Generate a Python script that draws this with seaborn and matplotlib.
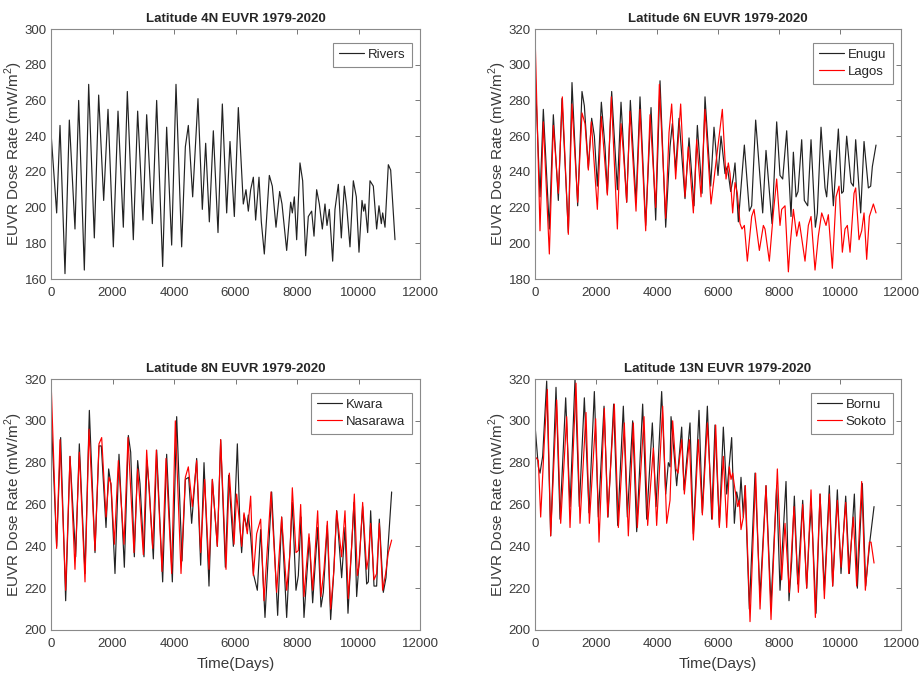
import matplotlib
matplotlib.use('Agg')
import matplotlib.pyplot as plt
import seaborn as sns

# ── Values (day, dose rate) ────────────────────────────────
rivers_days = [0, 184, 293, 455, 596, 780, 900, 1084, 1225, 1409,
               1550, 1713, 1854, 2027, 2179, 2352, 2482, 2677, 2818, 2992,
               3111, 3295, 3436, 3631, 3761, 3924, 4065, 4249, 4369, 4466,
               4607, 4780, 4921, 5030, 5149, 5279, 5431, 5572, 5713, 5821,
               5962, 6092, 6254, 6341, 6417, 6493, 6580, 6655, 6764, 6840,
               6937, 7100, 7197, 7317, 7436, 7512, 7664, 7794, 7848, 7913,
               7989, 8097, 8184, 8281, 8368, 8477, 8553, 8639, 8726, 8824,
               8910, 8975, 9051, 9160, 9235, 9344, 9441, 9539, 9615, 9723,
               9832, 9929, 10016, 10114, 10168, 10211, 10298, 10374, 10482, 10590,
               10666, 10742, 10786, 10862, 10970, 11046, 11187]
rivers = [242, 197, 246, 163, 249, 188, 260, 165, 269, 183,
          263, 204, 255, 178, 254, 189, 265, 182, 254, 193,
          252, 191, 260, 167, 245, 179, 269, 178, 234, 246,
          206, 261, 199, 236, 192, 243, 186, 258, 197, 237,
          195, 256, 202, 210, 198, 210, 217, 193, 217, 192,
          174, 218, 212, 189, 209, 202, 176, 203, 197, 206,
          182, 225, 215, 173, 195, 198, 184, 210, 202, 188,
          202, 190, 199, 170, 199, 213, 183, 212, 201, 178,
          215, 206, 175, 204, 198, 202, 186, 215, 212, 188,
          201, 191, 197, 189, 224, 221, 182]

enugu_days = [0, 164, 273, 470, 601, 765, 885, 1093, 1213, 1399,
              1541, 1618, 1749, 1858, 1946, 2044, 2175, 2295, 2372, 2514,
              2700, 2820, 3006, 3126, 3312, 3443, 3629, 3804, 3957, 4099,
              4285, 4427, 4503, 4612, 4722, 4918, 5050, 5214, 5323, 5476,
              5574, 5760, 5869, 6000, 6100, 6230, 6306, 6416, 6503, 6558,
              6667, 6776, 6864, 7028, 7104, 7235, 7465, 7574, 7771, 7924,
              8033, 8121, 8252, 8394, 8471, 8558, 8624, 8744, 8831, 8941,
              9050, 9192, 9257, 9378, 9509, 9563, 9673, 9782, 9946, 10055,
              10110, 10219, 10361, 10438, 10514, 10678, 10788, 10930, 11006, 11061,
              11181]
enugu = [298, 226, 275, 208, 272, 224, 281, 206, 290, 221,
         285, 277, 242, 270, 260, 232, 279, 254, 228, 285,
         230, 279, 223, 280, 223, 282, 210, 276, 213, 291,
         209, 254, 267, 241, 270, 225, 259, 221, 266, 228,
         282, 232, 265, 238, 260, 239, 243, 229, 237, 245,
         212, 236, 255, 218, 221, 269, 217, 252, 211, 268,
         238, 236, 263, 215, 251, 226, 229, 258, 224, 221,
         258, 209, 217, 265, 231, 226, 252, 221, 264, 228,
         229, 260, 234, 232, 258, 217, 257, 231, 232, 243,
         255]

lagos_days = [0, 164, 273, 470, 601, 765, 896, 1093, 1213, 1399,
              1541, 1640, 1749, 1847, 2044, 2175, 2372, 2503, 2700, 2820,
              2897, 3006, 3115, 3312, 3443, 3629, 3771, 3957, 4077, 4285,
              4394, 4481, 4612, 4776, 4918, 5028, 5192, 5301, 5443, 5574,
              5771, 6142, 6263, 6339, 6394, 6481, 6558, 6634, 6722, 6787,
              6864, 6962, 7104, 7181, 7356, 7487, 7541, 7683, 7815, 7924,
              8033, 8088, 8197, 8307, 8361, 8471, 8580, 8667, 8853, 8962,
              9050, 9181, 9290, 9400, 9542, 9618, 9749, 9870, 9968, 10077,
              10165, 10241, 10329, 10460, 10514, 10624, 10711, 10788, 10875, 10963,
              11094, 11181]
lagos = [318, 207, 268, 194, 266, 228, 282, 205, 278, 223,
         273, 267, 241, 268, 219, 271, 227, 282, 208, 267,
         251, 223, 274, 218, 275, 207, 272, 220, 289, 214,
         262, 278, 236, 278, 226, 254, 217, 258, 226, 275,
         222, 275, 236, 245, 239, 217, 234, 228, 211, 208,
         210, 190, 215, 219, 196, 210, 208, 190, 217, 236,
         210, 219, 221, 184, 198, 219, 204, 212, 190, 210,
         215, 185, 204, 217, 210, 216, 186, 226, 232, 195,
         208, 210, 195, 228, 231, 202, 207, 217, 191, 215,
         222, 217]

kwara_days = [0, 184, 314, 477, 618, 802, 921, 1106, 1247, 1431,
              1561, 1637, 1789, 1875, 1951, 2081, 2211, 2385, 2515, 2591,
              2710, 2818, 2894, 3024, 3122, 3198, 3328, 3436, 3631, 3761,
              3946, 4087, 4260, 4369, 4477, 4574, 4737, 4867, 4976, 5138,
              5247, 5409, 5518, 5670, 5778, 5930, 6060, 6146, 6200, 6276,
              6363, 6417, 6493, 6580, 6710, 6818, 6959, 7176, 7371, 7501,
              7664, 7848, 7967, 8043, 8130, 8227, 8401, 8509, 8672, 8780,
              8856, 8986, 9094, 9181, 9290, 9452, 9561, 9658, 9777, 9853,
              9940, 10027, 10135, 10265, 10320, 10395, 10504, 10590, 10677, 10807,
              10894, 11078]
kwara = [305, 240, 292, 214, 283, 235, 289, 227, 305, 237,
         288, 288, 249, 277, 269, 227, 284, 230, 293, 285,
         235, 281, 270, 235, 281, 267, 234, 286, 223, 284,
         223, 302, 233, 272, 273, 251, 282, 231, 280, 221,
         272, 240, 291, 230, 274, 240, 289, 249, 237, 255,
         249, 255, 245, 227, 219, 248, 206, 266, 207, 254,
         206, 261, 219, 226, 254, 206, 244, 213, 249, 211,
         218, 250, 205, 224, 257, 225, 249, 208, 240, 261,
         216, 234, 259, 222, 223, 257, 221, 221, 253, 218,
         225, 266]

nasarawa_days = [0, 184, 293, 477, 618, 780, 921, 1106, 1236, 1431,
                 1561, 1648, 1789, 1886, 1951, 2060, 2190, 2374, 2504, 2699,
                 2818, 3003, 3111, 3306, 3425, 3610, 3740, 3924, 4043, 4228,
                 4369, 4466, 4596, 4737, 4867, 4997, 5138, 5247, 5409, 5518,
                 5691, 5800, 5952, 6038, 6146, 6200, 6276, 6384, 6493, 6580,
                 6688, 6818, 6927, 7154, 7338, 7501, 7664, 7772, 7848, 7967,
                 8043, 8119, 8227, 8390, 8509, 8672, 8780, 8878, 8986, 9094,
                 9203, 9290, 9452, 9561, 9669, 9777, 9864, 9962, 10027, 10135,
                 10265, 10320, 10395, 10504, 10590, 10677, 10785, 10883, 10970, 11078]
nasarawa = [320, 239, 291, 219, 283, 229, 285, 223, 296, 238,
            289, 292, 254, 273, 270, 241, 281, 241, 292, 237,
            277, 236, 286, 239, 286, 228, 282, 227, 300, 227,
            273, 278, 259, 281, 237, 272, 229, 272, 240, 291,
            229, 275, 241, 265, 249, 240, 256, 246, 264, 226,
            246, 253, 214, 266, 218, 254, 219, 237, 268, 237,
            238, 260, 216, 246, 219, 257, 216, 229, 252, 210,
            229, 257, 235, 257, 215, 240, 265, 226, 232, 261,
            229, 234, 251, 224, 227, 251, 219, 227, 237, 243]

bornu_days = [0, 109, 164, 251, 383, 514, 689, 820, 1006, 1148,
              1312, 1454, 1618, 1771, 1946, 2077, 2263, 2394, 2579, 2711,
              2896, 3028, 3202, 3334, 3530, 3662, 3847, 3968, 4153, 4285,
              4372, 4427, 4460, 4645, 4809, 4886, 5082, 5192, 5378, 5487,
              5651, 5793, 5902, 6044, 6175, 6285, 6448, 6536, 6612, 6700,
              6754, 6831, 6886, 7028, 7214, 7378, 7574, 7738, 7924, 8033,
              8143, 8230, 8328, 8416, 8503, 8613, 8777, 8908, 8995, 9061,
              9214, 9345, 9487, 9651, 9760, 9913, 10033, 10187, 10307, 10471,
              10569, 10733, 10842, 10984, 11116]
bornu = [298, 278, 275, 283, 319, 245, 316, 253, 311, 259,
         320, 259, 311, 256, 314, 254, 307, 254, 308, 250,
         307, 254, 300, 247, 308, 253, 299, 259, 314, 265,
         280, 278, 302, 269, 297, 267, 299, 246, 305, 256,
         307, 253, 298, 250, 297, 265, 292, 251, 266, 259,
         273, 254, 269, 210, 275, 216, 269, 212, 269, 219,
         248, 271, 214, 233, 264, 222, 262, 220, 246, 259,
         208, 265, 219, 269, 221, 267, 227, 264, 227, 265,
         220, 270, 221, 243, 259]

sokoto_days = [0, 109, 186, 306, 404, 514, 710, 842, 1038, 1148,
               1344, 1476, 1672, 1782, 1989, 2099, 2273, 2383, 2601, 2733,
               2929, 3060, 3224, 3356, 3574, 3694, 3880, 3989, 4186, 4317,
               4427, 4514, 4623, 4689, 4809, 4897, 5061, 5192, 5356, 5487,
               5651, 5815, 5924, 6044, 6175, 6285, 6372, 6427, 6481, 6558,
               6645, 6700, 6754, 6831, 6897, 7050, 7235, 7378, 7574, 7738,
               7946, 8088, 8197, 8339, 8492, 8635, 8777, 8908, 9050, 9192,
               9345, 9487, 9651, 9760, 9913, 10033, 10187, 10285, 10438, 10547,
               10711, 10831, 10963, 11018, 11116]
sokoto = [283, 281, 254, 290, 315, 245, 310, 251, 302, 249,
          318, 251, 304, 251, 301, 242, 306, 254, 308, 249,
          299, 245, 299, 249, 302, 250, 287, 250, 307, 251,
          262, 300, 277, 275, 291, 265, 291, 243, 291, 255,
          299, 253, 298, 249, 283, 249, 278, 272, 275, 267,
          259, 262, 248, 254, 269, 204, 275, 210, 269, 205,
          277, 224, 251, 218, 259, 218, 260, 220, 267, 206,
          265, 215, 265, 221, 262, 230, 261, 227, 254, 221,
          271, 219, 242, 242, 232]

x_ticks = [0, 2000, 4000, 6000, 8000, 10000, 12000]

panels = [
    ('Latitude 4N EUVR 1979-2020', [('Rivers', rivers_days, rivers)], (160, 300)),
    ('Latitude 6N EUVR 1979-2020', [('Enugu', enugu_days, enugu),
                                     ('Lagos', lagos_days, lagos)], (180, 320)),
    ('Latitude 8N EUVR 1979-2020', [('Kwara', kwara_days, kwara),
                                     ('Nasarawa', nasarawa_days, nasarawa)], (200, 320)),
    ('Latitude 13N EUVR 1979-2020', [('Bornu', bornu_days, bornu),
                                      ('Sokoto', sokoto_days, sokoto)], (200, 320)),
]
line_colors = ['#222222', '#ff0000']

# ── Style ──────────────────────────────────────────────────
sns.set_style('white')
plt.rcParams['font.family'] = ['Liberation Sans', 'DejaVu Sans']
plt.rcParams['mathtext.fontset'] = 'custom'
plt.rcParams['mathtext.rm'] = 'Liberation Sans'

W, H = 919, 683
fig = plt.figure(figsize=(W / 100, H / 100), dpi=100)
# axes boxes in pixels: (left, top, right, bottom)
boxes = [(51, 29, 420, 279), (535, 29, 901, 279),
         (51, 379, 420, 630), (535, 379, 901, 630)]

for i, (title, series, ylim) in enumerate(panels):
    l, t, r, b = boxes[i]
    ax = fig.add_axes([l / W, 1 - b / H, (r - l) / W, (b - t) / H])
    for j, (name, days, vals) in enumerate(series):
        sns.lineplot(x=days, y=vals, ax=ax, color=line_colors[j], lw=0.85,
                     label=name, estimator=None, sort=False)
    ax.set_xlim(0, 12000)
    ax.set_ylim(*ylim)
    ax.set_xticks(x_ticks)
    ax.set_yticks(range(ylim[0], ylim[1] + 1, 20))
    ax.tick_params(direction='in', top=True, right=True, length=3.5,
                   width=0.7, color='#777777', labelsize=9.5,
                   labelcolor='#3a3a3a')
    ax.tick_params(axis='x', pad=6)
    ax.tick_params(axis='y', pad=3)
    for sp in ax.spines.values():
        sp.set_color('#8a8a8a')
        sp.set_linewidth(0.8)
    ax.set_title(title, fontsize=9.5, fontweight='bold', pad=5)
    ax.set_ylabel('EUVR Dose Rate (mW/m$^2$)', fontsize=11, color='#3a3a3a')
    ax.yaxis.set_label_coords(-0.07, 0.5)
    if i >= 2:
        ax.set_xlabel('Time(Days)', fontsize=11, color='#3a3a3a', labelpad=5)
    else:
        ax.set_xlabel('')
    leg = ax.legend(loc='upper right', bbox_to_anchor=(0.977, 0.945),
                    borderaxespad=0, fancybox=False, framealpha=1,
                    edgecolor='#8a8a8a', fontsize=9.5, handlelength=1.9,
                    handletextpad=0.3, borderpad=0.45, labelspacing=0.35)
    leg.get_frame().set_linewidth(0.8)

fig.savefig('out.png', dpi=100)
